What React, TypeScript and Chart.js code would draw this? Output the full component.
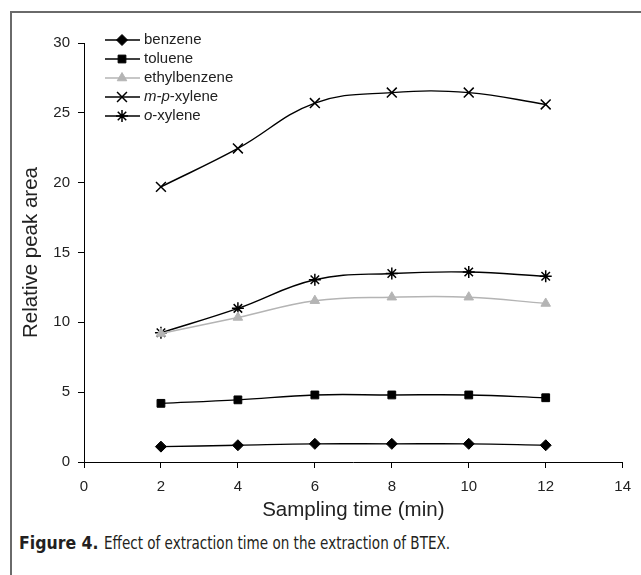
import React, { useEffect, useRef } from "react";
import { Chart, registerables } from "chart.js";
import { drawPoint } from "chart.js/helpers";

Chart.register(...registerables);

// ---- data ----
const times = [2, 4, 6, 8, 10, 12];
const benzene = [1.1, 1.2, 1.3, 1.3, 1.3, 1.2];
const toluene = [4.2, 4.45, 4.8, 4.8, 4.8, 4.6];
const ethylbenzene = [9.2, 10.35, 11.55, 11.8, 11.8, 11.35];
const mpXylene = [19.7, 22.45, 25.7, 26.45, 26.45, 25.6];
const oXylene = [9.25, 11.0, 13.05, 13.5, 13.6, 13.3];

const seriesNames = ["benzene", "toluene", "ethylbenzene", "m-p-xylene", "o-xylene"];
const italicPrefix = ["", "", "", "m-p", "o"];

const xTitle = "Sampling time (min)";
const yTitle = "Relative peak area";
const captionBold = "Figure 4.";
const captionText = "Effect of extraction time on the extraction of BTEX.";

const FONT = "'Liberation Sans', Arial, sans-serif";

const toPoints = (vals: number[]) => vals.map((v, i) => ({ x: times[i], y: v }));

const legendPlugin = {
  id: "customLegend",
  afterDraw(chart: any) {
    const ctx = chart.ctx;
    const area = chart.chartArea;
    const x0 = area.left + 21;
    const y0 = area.top - 3;
    const step = 19;
    ctx.save();
    chart.data.datasets.forEach((ds: any, i: number) => {
      const y = y0 + i * step;
      ctx.strokeStyle = ds.borderColor;
      ctx.lineWidth = ds.borderWidth;
      ctx.beginPath();
      ctx.moveTo(x0, y);
      ctx.lineTo(x0 + 35, y);
      ctx.stroke();
      ctx.fillStyle = ds.pointBackgroundColor;
      ctx.strokeStyle = ds.pointBorderColor;
      ctx.lineWidth = ds.pointBorderWidth;
      drawPoint(
        ctx,
        { pointStyle: ds.pointStyle, radius: ds.pointRadius, rotation: 0, borderWidth: ds.pointBorderWidth },
        x0 + 17,
        y
      );
      const name: string = seriesNames[i];
      const ital = italicPrefix[i];
      let tx = x0 + 39;
      ctx.fillStyle = "#222";
      ctx.textBaseline = "middle";
      ctx.textAlign = "left";
      if (ital) {
        ctx.font = `italic 15px ${FONT}`;
        ctx.fillText(ital, tx, y);
        tx += ctx.measureText(ital).width;
      }
      ctx.font = `15px ${FONT}`;
      ctx.fillText(name.slice(ital.length), tx, y);
    });
    ctx.restore();
  },
};

export default function App() {
  const ref = useRef<HTMLCanvasElement>(null);

  useEffect(() => {
    if (!ref.current) return;
    const mk = (
      data: number[],
      color: string,
      pointStyle: string,
      radius: number,
      pbw: number
    ) => ({
      data: toPoints(data),
      borderColor: color,
      borderWidth: 1.4,
      pointStyle,
      pointRadius: radius,
      pointHoverRadius: radius,
      pointBackgroundColor: color,
      pointBorderColor: color,
      pointBorderWidth: pbw,
      tension: 0.4,
      fill: false,
    });
    const chart = new Chart(ref.current, {
      type: "line",
      data: {
        datasets: [
          { label: seriesNames[0], ...mk(benzene, "#000", "rectRot", 5.5, 1) },
          { label: seriesNames[1], ...mk(toluene, "#000", "rect", 5.5, 1) },
          { label: seriesNames[2], ...mk(ethylbenzene, "#b4b4b4", "triangle", 5.5, 1) },
          { label: seriesNames[3], ...mk(mpXylene, "#000", "crossRot", 7, 1.5) },
          { label: seriesNames[4], ...mk(oXylene, "#000", "star", 6, 1.5) },
        ] as any,
      },
      options: {
        animation: false,
        responsive: false,
        events: [],
        layout: { padding: { left: 0, top: 43, right: 14, bottom: 0 } },
        plugins: { legend: { display: false }, tooltip: { enabled: false } },
        scales: {
          x: {
            type: "linear",
            min: 0,
            max: 14,
            afterFit: (s: any) => {
              s.height = 63;
            },
            ticks: { stepSize: 2, color: "#222", font: { family: FONT, size: 15 }, padding: 10, maxRotation: 0 },
            grid: { drawOnChartArea: false, drawTicks: true, tickLength: 6, color: "#000" },
            border: { display: true, color: "#000", width: 1 },
            title: {
              display: true,
              text: xTitle,
              color: "#222",
              font: { family: FONT, size: 20.5 },
              padding: { top: 0, bottom: 2 },
            },
          },
          y: {
            type: "linear",
            min: 0,
            max: 30,
            afterFit: (s: any) => {
              s.width = 84;
            },
            ticks: { stepSize: 5, color: "#222", font: { family: FONT, size: 15 }, padding: 8 },
            grid: { drawOnChartArea: false, drawTicks: true, tickLength: 6, color: "#000" },
            border: { display: true, color: "#000", width: 1 },
            title: {
              display: true,
              text: yTitle,
              color: "#222",
              font: { family: FONT, size: 20.5 },
              padding: { top: 19, bottom: 0 },
            },
          },
        },
      },
      plugins: [legendPlugin],
    } as any);
    return () => chart.destroy();
  }, []);

  return (
    <div style={{ position: "absolute", left: 0, top: 0, width: 641, height: 575, overflow: "hidden", background: "#fff" }}>
      <div
        style={{
          position: "absolute",
          left: 10,
          top: 11,
          width: 640,
          height: 570,
          borderTop: "2px solid #6a6a6a",
          borderLeft: "2px solid #6a6a6a",
        }}
      />
      <canvas ref={ref} width={641} height={525} style={{ position: "absolute", left: 0, top: 0 }} />
      <div
        style={{
          position: "absolute",
          left: 19,
          top: 532,
          whiteSpace: "nowrap",
          fontFamily: "'DejaVu Sans Condensed', 'Liberation Sans', sans-serif",
          fontSize: 17.5,
          lineHeight: "22px",
          color: "#231f20",
        }}
      >
        <span style={{ fontWeight: "bold" }}>{captionBold}</span>
        <span
          style={{
            display: "inline-block",
            marginLeft: 5,
            transform: "scaleX(0.86)",
            transformOrigin: "left center",
          }}
        >
          {captionText}
        </span>
      </div>
    </div>
  );
}
